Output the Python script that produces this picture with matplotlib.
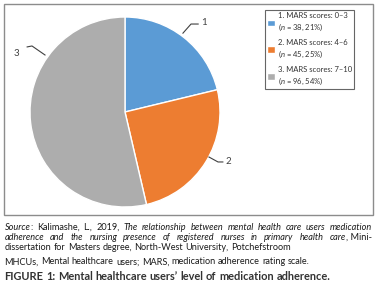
import matplotlib
matplotlib.use("Agg")
import matplotlib.pyplot as plt
from matplotlib.patches import Rectangle

# Data
groups = ["1", "2", "3"]
score_ranges = ["0–3", "4–6", "7–10"]
counts = [38, 45, 96]
colors = ["#5B9BD5", "#ED7D31", "#ADADAD"]

plt.rcParams["font.family"] = ["Lato", "DejaVu Sans"]
plt.rcParams["mathtext.fontset"] = "custom"
plt.rcParams["mathtext.it"] = "Lato:italic"
plt.rcParams["mathtext.rm"] = "Lato"

W, H = 383, 289
fig = plt.figure(figsize=(W / 100, H / 100), dpi=100)

def px(x, y):
    """pixel coords (top-left origin) -> figure fraction"""
    return x / W, 1 - y / H

# outer frame
fig.patches.append(Rectangle(px(4, 215), 369 / W, 211 / H, transform=fig.transFigure,
                             fill=False, edgecolor="#8C8C8C", lw=1.0))

# pie axes: centre (125,112) px, radius 95 px
L = 1.1
half = 95 * L
ax = fig.add_axes([(125 - half) / W, 1 - (112 + half) / H, 2 * half / W, 2 * half / H])
wedges, _ = ax.pie(counts, startangle=90, counterclock=False, colors=colors,
                   wedgeprops=dict(edgecolor="white", linewidth=1.0))
ax.set_xlim(-L, L)
ax.set_ylim(-L, L)
ax.set_aspect("equal")
ax.axis("off")

# leader lines (start, elbow, end) and label positions
leaders = [
    [(0.61, 0.83), (0.695, 0.926), (0.77, 0.926)],
    [(0.884, -0.474), (0.979, -0.526), (1.03, -0.526)],
    [(-0.842, 0.60), (-0.979, 0.695), (-1.03, 0.685)],
]
label_pos = [(0.80, 0.94, "left"), (1.055, -0.523, "left"), (-1.11, 0.616, "right")]
for g, pts, (lx, ly, ha) in zip(groups, leaders, label_pos):
    xs, ys = zip(*pts)
    ax.plot(xs, ys, color="#404040", lw=0.8, clip_on=False)
    ax.text(lx, ly, g, ha=ha, va="center", fontsize=7, color="#404040")

# legend
total = sum(counts)
labels = [f"{g}. MARS scores: {r}\n($n$ = {c}, {round(100 * c / total)}%)"
          for g, r, c in zip(groups, score_ranges, counts)]
leg = fig.legend(wedges, labels, loc="upper left", bbox_to_anchor=px(265, 10),
                 fontsize=5.5, frameon=True, fancybox=False, handlelength=1.0,
                 handleheight=1.0, handletextpad=0.35, labelspacing=0.8,
                 borderpad=0.3, borderaxespad=0)
leg.get_frame().set_edgecolor("#404040")
leg.get_frame().set_linewidth(0.8)
for t in leg.get_texts():
    t.set_color("#333333")
    t.set_linespacing(1.3)

# caption text with mixed styles
renderer = fig.canvas.get_renderer()
FS = 6.6

def width_of(s, style, size=FS, weight="normal"):
    t = fig.text(0, 0, s, fontsize=size, style=style, weight=weight)
    w = t.get_window_extent(renderer).width
    t.remove()
    return w

def draw_line(words, y, x0=4.5, x1=None, size=FS, color="#1a1a1a", weight="normal"):
    # words: list of list of (piece, style); y is the baseline in pixels
    widths = [sum(width_of(p, s, size, weight) for p, s in w) for w in words]
    space = width_of("a a", "normal", size, weight) - 2 * width_of("a", "normal", size, weight)
    if x1 is not None and len(words) > 1:
        space = (x1 - x0 - sum(widths)) / (len(words) - 1)
    x = x0
    for w, wd in zip(words, widths):
        xx = x
        for p, s in w:
            fig.text(xx / W, 1 - y / H, p, fontsize=size, style=s, weight=weight,
                     color=color, va="baseline", ha="left")
            xx += width_of(p, s, size, weight)
        x += wd + space

def simple(text, style):
    return [[(w, style)] for w in text.split()]

line1 = ([[("Source", "italic"), (":", "normal")]] + simple("Kalimashe, L., 2019,", "normal")
         + simple("The relationship between mental health care users medication", "italic"))
line2 = (simple("adherence and the nursing presence of registered nurses in primary health", "italic")
         + [[("care", "italic"), (", Mini-", "normal")]])
draw_line(line1, 229.5, x1=372)
draw_line(line2, 240, x1=372)
draw_line(simple("dissertation for Masters degree, North-West University, Potchefstroom", "normal"), 250.5)
draw_line(simple("MHCUs, Mental healthcare users; MARS, medication adherence rating scale.", "normal"), 264.5)
draw_line(simple("FIGURE 1: Mental healthcare users\u2019 level of medication adherence.", "normal"), 280,
          size=7.9, color="#333333", weight="bold")

fig.savefig("out.png", dpi=100)
